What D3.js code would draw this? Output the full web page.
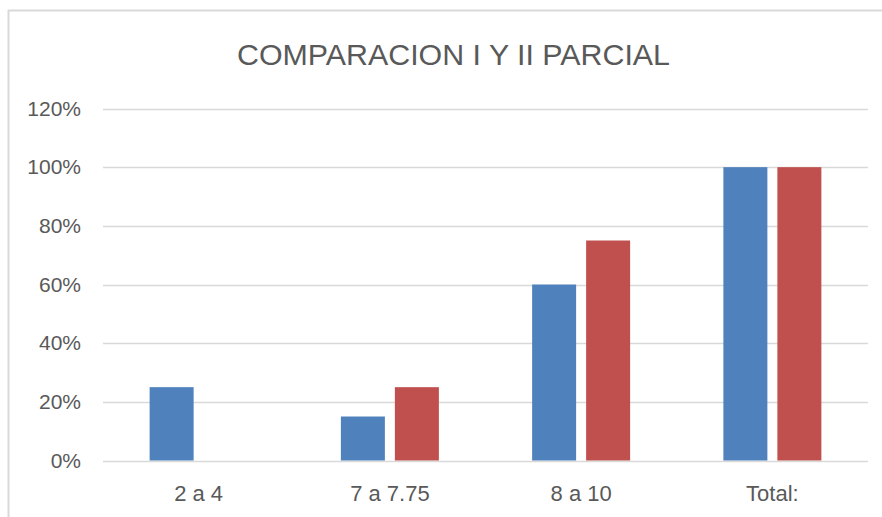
<!DOCTYPE html>
<html>
<head>
<meta charset="utf-8">
<script src="https://cdn.jsdelivr.net/npm/d3@7/dist/d3.min.js"></script>
<style>
  html, body { margin: 0; padding: 0; background: #fff; }
  svg { display: block; }
  text { font-family: "Liberation Sans", Arial, sans-serif; fill: #595959; }
</style>
</head>
<body>
<svg id="chart" width="882" height="517"></svg>
<script>
const categories = ["2 a 4", "7 a 7.75", "8 a 10", "Total:"];
const seriesNames = ["I Parcial", "II Parcial"];
const seriesI = [0.25, 0.15, 0.60, 1.00];
const seriesII = [0.00, 0.25, 0.75, 1.00];
const yTicks = [0, 0.2, 0.4, 0.6, 0.8, 1.0, 1.2];
const colors = ["#4F81BD", "#C0504D"];
const title = "COMPARACION I Y II PARCIAL";

const svg = d3.select("#chart");
const W = 882, H = 517;
const plot = { left: 103, right: 868, top: 108.5, bottom: 460.5 };

// chart border (top + left visible)
svg.append("line").attr("x1", 8).attr("x2", W).attr("y1", 10.5).attr("y2", 10.5)
  .attr("stroke", "#D9D9D9").attr("stroke-width", 2);
svg.append("line").attr("x1", 8.5).attr("x2", 8.5).attr("y1", 10).attr("y2", H)
  .attr("stroke", "#D9D9D9").attr("stroke-width", 2);

const y = d3.scaleLinear().domain([0, 1.2]).range([plot.bottom, plot.top]);
const x0 = d3.scaleBand().domain(categories).range([plot.left, plot.right]).paddingInner(0).paddingOuter(0);
const groupW = 98;
const x1 = d3.scaleBand().domain(seriesNames)
  .range([(x0.bandwidth() - groupW) / 2, (x0.bandwidth() + groupW) / 2])
  .paddingInner(10 / 54).paddingOuter(0);

// gridlines
svg.append("g").selectAll("line").data(yTicks).join("line")
  .attr("x1", plot.left).attr("x2", plot.right)
  .attr("y1", d => Math.round(y(d)) + 0.5).attr("y2", d => Math.round(y(d)) + 0.5)
  .attr("stroke", "#D9D9D9").attr("stroke-width", 1.5);

// y axis labels
const yAxis = d3.axisLeft(y).tickValues(yTicks).tickFormat(d3.format(".0%")).tickSize(0).tickPadding(0);
const gy = svg.append("g").attr("transform", `translate(81,0)`).call(yAxis);
gy.select(".domain").remove();
gy.selectAll("text").attr("font-size", 21).attr("fill", "#595959")
  .style("font-family", '"Liberation Sans", Arial, sans-serif');

// bars
const data = categories.map((c, i) => ({ cat: c, vals: [seriesI[i], seriesII[i]] }));
const groups = svg.append("g").selectAll("g").data(data).join("g")
  .attr("transform", d => `translate(${x0(d.cat)},0)`);
groups.selectAll("rect").data(d => d.vals.map((v, k) => ({ s: seriesNames[k], v, k })))
  .join("rect")
  .attr("x", d => x1(d.s))
  .attr("width", x1.bandwidth())
  .attr("y", d => y(d.v))
  .attr("height", d => y(0) - y(d.v))
  .attr("fill", d => colors[d.k]);

// x axis labels
const xAxis = d3.axisBottom(x0).tickSize(0).tickPadding(0);
const gx = svg.append("g").attr("transform", `translate(0,${plot.bottom})`).call(xAxis);
gx.select(".domain").remove();
gx.selectAll("text").attr("font-size", 22).attr("fill", "#595959")
  .attr("dy", null).attr("y", 40)
  .style("font-family", '"Liberation Sans", Arial, sans-serif');

// title
svg.append("text").attr("x", 453.5).attr("y", 64.5).attr("text-anchor", "middle")
  .attr("font-size", 30).attr("textLength", 433).attr("lengthAdjust", "spacingAndGlyphs")
  .text(title);
</script>
</body>
</html>
